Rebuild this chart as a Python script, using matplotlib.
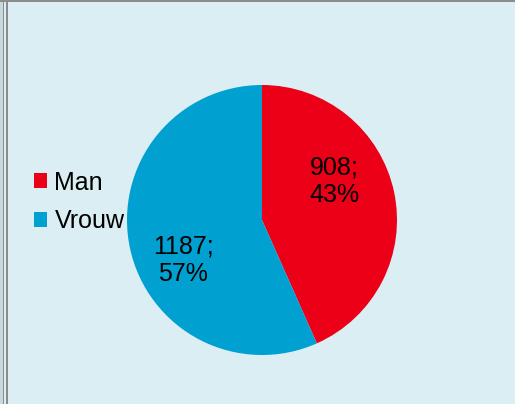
import matplotlib
matplotlib.use("Agg")
import matplotlib.pyplot as plt
from matplotlib.patches import Rectangle

plt.rcParams['font.family'] = ['Liberation Sans', 'DejaVu Sans']

# data
categories = ["Man", "Vrouw"]
counts = [908, 1187]
colors = ["#EC0018", "#00A0D1"]

bg = "#DBEEF4"
W, H = 515, 404

fig = plt.figure(figsize=(W / 100, H / 100), dpi=100)
fig.patch.set_facecolor(bg)
ax = fig.add_axes([0, 0, 1, 1])
ax.set_facecolor(bg)

cx, cy, r = 262, H - 220, 135
wedges, _ = ax.pie(counts, colors=colors, startangle=90, counterclock=False,
                   center=(cx, cy), radius=r, frame=True,
                   wedgeprops=dict(linewidth=0))

total = sum(counts)
label_pos = [(cx + 72, cy + 39), (cx - 79, cy - 40)]
for n, (x, y) in zip(counts, label_pos):
    pct = round(100 * n / total)
    ax.text(x, y, f"{n};\n{pct}%", ha="center", va="center",
            fontsize=18, linespacing=1.2, color="black")

leg = ax.legend(wedges, categories, loc="center left",
                bbox_to_anchor=(34, H - 202), bbox_transform=ax.transData,
                frameon=False, fontsize=18, borderpad=0, borderaxespad=0,
                handlelength=0.52, handleheight=0.52, handletextpad=0.3,
                labelspacing=0.6)

# frame lines on left and top
ax.add_patch(Rectangle((0, 0), 3, H, color="#C9D8DE", lw=0))
ax.add_patch(Rectangle((3, 0), 1, H, color="#8C8C8C", lw=0))
ax.add_patch(Rectangle((6, 0), 2, H, color="#8C8C8C", lw=0))
ax.add_patch(Rectangle((0, H - 1.5), W, 1.5, color="#8C8C8C", lw=0))

ax.set_xlim(0, W)
ax.set_ylim(0, H)
ax.set_aspect("auto")
ax.axis("off")

fig.savefig("out.png", dpi=100, facecolor=bg)
